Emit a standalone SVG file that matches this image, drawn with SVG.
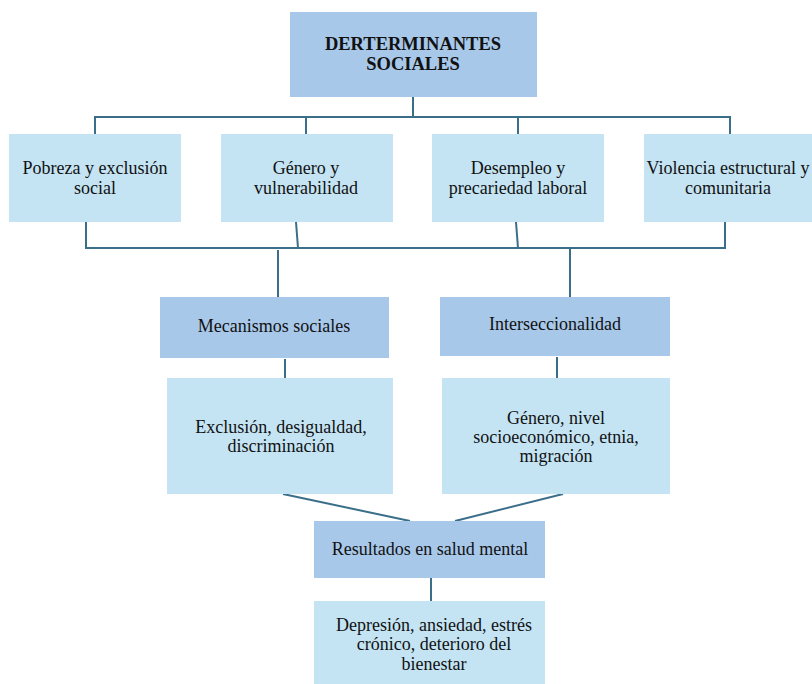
<svg xmlns="http://www.w3.org/2000/svg" width="812" height="684" viewBox="0 0 812 684">
<style>
.dark{fill:#a8c8ea}
.light{fill:#c4e4f4}
text{font-family:'Liberation Serif','Times New Roman',serif;font-size:18px;fill:#111;text-anchor:middle}
.b{font-weight:bold;font-size:18.5px}
.c line,.c polyline{stroke:#3b6f89;stroke-width:2;fill:none}
</style>
<rect width="812" height="684" fill="#fff"/>
<g class="c" id="connectors">
<line x1="413" y1="97" x2="413" y2="117"/>
<polyline points="95,134 95,117 730,117 730,134"/>
<line x1="306" y1="117" x2="306" y2="134"/>
<line x1="518" y1="117" x2="518" y2="134"/>
<polyline points="86,222 86,248 725,248 725,222"/>
<line x1="296" y1="222" x2="298" y2="248"/>
<line x1="516" y1="222" x2="518" y2="248"/>
<line x1="278" y1="250" x2="278" y2="297"/>
<line x1="570" y1="248" x2="570" y2="297"/>
<line x1="285" y1="359" x2="285" y2="378"/>
<line x1="557" y1="357" x2="557" y2="378"/>
<line x1="283" y1="494" x2="410" y2="521"/>
<line x1="563" y1="494" x2="455" y2="521"/>
<line x1="431" y1="578" x2="431" y2="601"/>
</g>
<g id="n-top"><rect class="dark" x="290" y="12" width="247" height="85"/><text class="b" x="413" y="50">DERTERMINANTES</text><text class="b" x="413" y="70">SOCIALES</text></g>
<g id="n-pobreza"><rect class="light" x="9" y="134" width="172" height="88"/><text x="95" y="174">Pobreza y exclusión</text><text x="95" y="194">social</text></g>
<g id="n-genero"><rect class="light" x="221" y="134" width="172" height="88"/><text x="306" y="174">Género y</text><text x="306" y="194">vulnerabilidad</text></g>
<g id="n-desempleo"><rect class="light" x="432" y="134" width="172" height="88"/><text x="518" y="174">Desempleo y</text><text x="518" y="194">precariedad laboral</text></g>
<g id="n-violencia"><rect class="light" x="644" y="134" width="172" height="88"/><text x="728" y="174">Violencia estructural y</text><text x="728" y="194">comunitaria</text></g>
<g id="n-mecanismos"><rect class="dark" x="160" y="297" width="229" height="61"/><text x="274" y="332">Mecanismos sociales</text></g>
<g id="n-interseccionalidad"><rect class="dark" x="440" y="297" width="230" height="59"/><text x="555" y="330">Interseccionalidad</text></g>
<g id="n-exclusion"><rect class="light" x="167" y="378" width="226" height="116"/><text x="281" y="433">Exclusión, desigualdad,</text><text x="281" y="452">discriminación</text></g>
<g id="n-genero-nivel"><rect class="light" x="442" y="378" width="228" height="116"/><text x="556" y="424">Género, nivel</text><text x="556" y="443">socioeconómico, etnia,</text><text x="556" y="462">migración</text></g>
<g id="n-resultados"><rect class="dark" x="314" y="521" width="231" height="57"/><text x="430" y="555">Resultados en salud mental</text></g>
<g id="n-depresion"><rect class="light" x="314" y="601" width="231" height="83"/><text x="434" y="631">Depresión, ansiedad, estrés</text><text x="434" y="650">crónico, deterioro del</text><text x="434" y="670">bienestar</text></g>
</svg>
